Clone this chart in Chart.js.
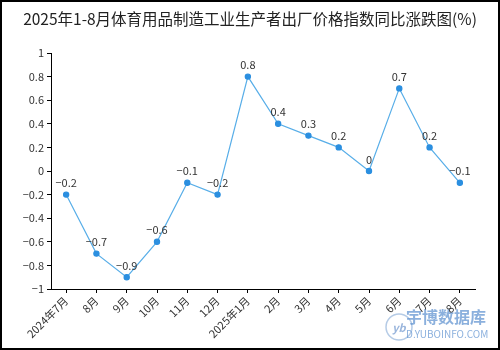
<!DOCTYPE html>
<html>
<head>
<meta charset="utf-8">
<script src="https://cdn.jsdelivr.net/npm/chart.js@4"></script>
<style>
  html, body { margin: 0; padding: 0; background: #fff; }
  #wrap { width: 500px; height: 350px; position: relative; }
</style>
</head>
<body>
<div id="wrap"><canvas id="myChart" width="500" height="350"></canvas></div>
<script>
// months on the x axis
let months = ['2024年7月', '8月', '9月', '10月', '11月', '12月', '2025年1月', '2月', '3月', '4月', '5月', '6月', '7月', '8月'];
// year-on-year change, %
let changes = [-0.2, -0.7, -0.9, -0.6, -0.1, -0.2, 0.8, 0.4, 0.3, 0.2, 0, 0.7, 0.2, -0.1];
let titleText = '2025年1-8月体育用品制造工业生产者出厂价格指数同比涨跌图(%)';

let fontFamily = '"Noto Sans CJK SC", "DejaVu Sans", sans-serif';

// minus sign like the original
function fmt(v) {
	let s = String(Math.round(v * 10) / 10);
	return s.replace('-', '−');
}

// title, frame, value labels and watermark
let extras = {
	id: 'extras',
	beforeDraw(chart) {
		let ctx = chart.ctx;
		ctx.save();
		// watermark, behind everything else
		ctx.strokeStyle = 'rgba(120,160,210,0.55)';
		ctx.lineWidth = 1.5;
		ctx.beginPath();
		ctx.arc(399, 327, 13, 0, Math.PI * 2);
		ctx.stroke();
		ctx.textAlign = 'center';
		ctx.textBaseline = 'middle';
		ctx.font = 'italic bold 11px ' + fontFamily;
		ctx.fillStyle = 'rgba(110,150,205,0.7)';
		ctx.fillText('yb', 399, 328);
		ctx.font = 'bold 16px ' + fontFamily;
		ctx.fillStyle = 'rgba(100,150,210,0.75)';
		ctx.textAlign = 'left';
		ctx.fillText('宇博数据库', 406, 317);
		ctx.font = '10px ' + fontFamily;
		ctx.fillText('D.YUBOINFO.COM', 406, 334);
		ctx.restore();
	},
	afterDatasetsDraw(chart) {
		let ctx = chart.ctx;
		let meta = chart.getDatasetMeta(0);
		ctx.save();
		ctx.font = '11px ' + fontFamily;
		ctx.fillStyle = '#333';
		ctx.textAlign = 'center';
		ctx.textBaseline = 'bottom';
		meta.data.forEach((pt, i) => {
			ctx.fillText(fmt(changes[i]), pt.x, pt.y - 6);
		});
		ctx.restore();
	},
	afterDraw(chart) {
		let ctx = chart.ctx;
		ctx.save();
		// title
		ctx.font = '15.5px ' + fontFamily;
		ctx.fillStyle = '#222';
		ctx.textAlign = 'center';
		ctx.textBaseline = 'middle';
		ctx.fillText(titleText, 250, 19);

		// outer frame
		ctx.strokeStyle = '#000';
		ctx.lineWidth = 2;
		ctx.strokeRect(1, 1, 498, 348);
		ctx.restore();
	}
};

let ctx = document.getElementById('myChart').getContext('2d');
new Chart(ctx, {
	type: 'line',
	data: {
		labels: months,
		datasets: [
			{
				data: changes,
				borderColor: '#58aee8',
				borderWidth: 1.2,
				pointBackgroundColor: '#2b8fe0',
				pointBorderColor: '#2b8fe0',
				pointRadius: 2.6,
				tension: 0,
			},
		],
	},
	options: {
		responsive: false,
		animation: false,
		layout: { padding: { left: 0, right: 25, top: 53, bottom: 0 } },
		plugins: {
			legend: { display: false },
			tooltip: { enabled: false },
		},
		scales: {
			x: {
				offset: true,
				afterFit: (s) => { s.height = 61; },
				border: { color: '#000', width: 1 },
				grid: { display: true, drawOnChartArea: false, drawTicks: true, tickLength: 4, color: '#000' },
				ticks: {
					color: '#333',
					font: { size: 11, family: fontFamily },
					minRotation: 45,
					maxRotation: 45,
					autoSkip: false,
					padding: 1,
				},
			},
			y: {
				min: -1,
				max: 1,
				afterFit: (s) => { s.width = 51; },
				border: { color: '#000', width: 1 },
				grid: { display: true, drawOnChartArea: false, drawTicks: true, tickLength: 4, color: '#000' },
				ticks: {
					stepSize: 0.2,
					color: '#333',
					font: { size: 11, family: fontFamily },
					padding: 3,
					callback: (v) => fmt(v),
				},
			},
		},
	},
	plugins: [extras],
});
</script>
</body>
</html>
